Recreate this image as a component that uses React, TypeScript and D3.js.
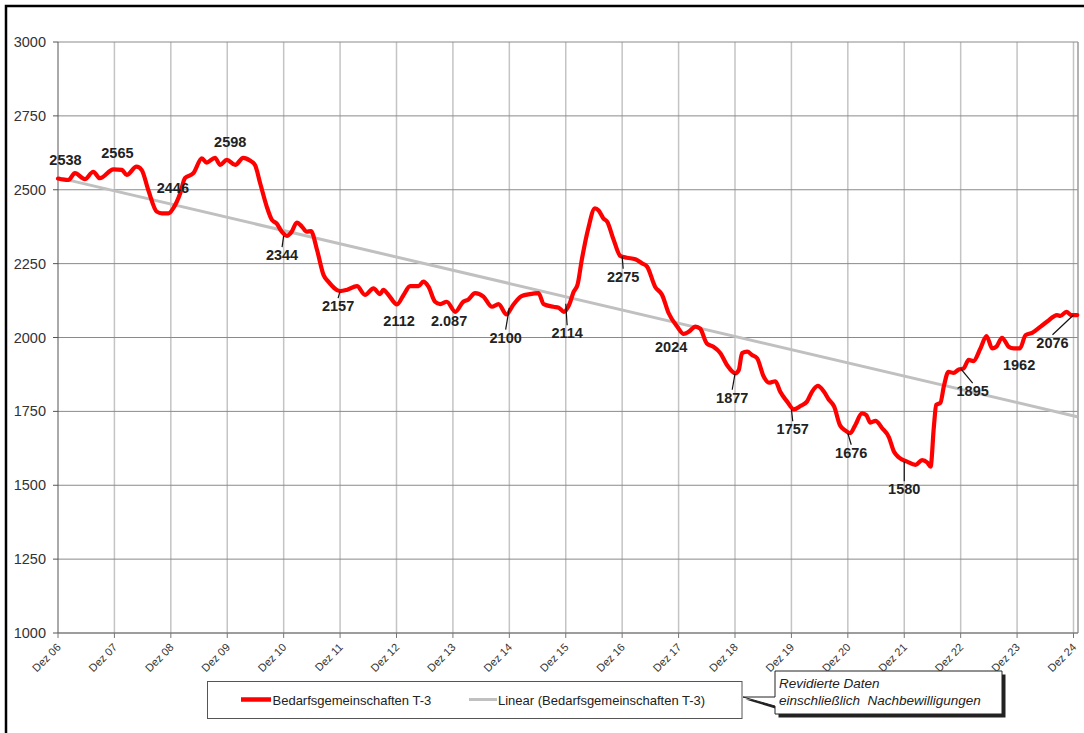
import React, { useEffect, useRef } from 'react';
import * as d3 from 'd3';

// month offsets since Dez 06 and values of the red series
const months = [
  0, 2.2, 3.6, 5.7, 7.5, 8.9, 11.8, 13.6, 14.6, 16.7, 17.8, 19.2, 21.0, 22.1, 23.5, 24.5, 26.0, 27.0, 28.8,
  30.6, 31.6, 33.4, 34.5, 35.9, 37.7, 39.4, 40.9, 41.9, 43.0, 44.4, 45.5, 46.5, 47.6, 48.7, 49.7, 50.8, 51.9,
  52.9, 53.8, 55.1, 56.5, 57.5, 60.0, 61.4, 63.6, 65.3, 67.1, 68.5, 69.2, 70.3, 72.1, 73.5, 74.9, 76.7, 77.7,
  78.8, 80.2, 81.3, 82.7, 84.5, 86.2, 87.3, 88.7, 90.5, 92.3, 93.7, 95.4, 96.8, 98.6, 100.4, 102.2, 103.3,
  105.4, 106.5, 107.6, 108.7, 109.7, 110.5, 111.4, 112.8, 114.2, 115.0, 116.0, 116.8, 118.2, 119.6, 121.0,
  122.8, 124.2, 125.3, 127.0, 128.5, 129.9, 131.7, 133.1, 134.2, 135.6, 136.6, 138.0, 139.4, 140.9, 142.3,
  144.1, 144.8, 145.5, 146.6, 147.6, 148.7, 150.1, 151.2, 152.6, 153.6, 155.1, 156.5, 157.9, 159.3, 160.4,
  161.6, 162.9, 163.9, 165.1, 166.3, 167.5, 168.5, 169.6, 171.0, 171.9, 172.8, 173.9, 175.3, 176.7, 177.8,
  178.8, 180.6, 182.4, 183.8, 184.9, 185.6, 186.3, 186.8, 187.7, 188.4, 189.4, 190.5, 191.6, 192.6, 193.7,
  194.7, 196.2, 197.5, 198.7, 199.6, 200.8, 202.2, 203.3, 204.6, 205.8, 207.2, 209.0, 210.4, 212.5, 213.2,
  214.5, 215.5, 216.8,
];
const values = [
  2538, 2533, 2556, 2536, 2561, 2539, 2569, 2567, 2550, 2578, 2567, 2499, 2426, 2420, 2420, 2437, 2488, 2539, 2556,
  2606, 2592, 2608, 2584, 2601, 2584, 2608, 2598, 2584, 2522, 2443, 2398, 2386, 2358, 2344, 2358, 2389, 2375,
  2358, 2360, 2296, 2211, 2189, 2157, 2161, 2174, 2144, 2166, 2147, 2161, 2144, 2112, 2144, 2174, 2174, 2189,
  2172, 2121, 2113, 2121, 2087, 2121, 2129, 2150, 2138, 2104, 2113, 2078, 2110, 2140, 2147, 2150, 2113,
  2104, 2101, 2087, 2110, 2155, 2178, 2262, 2370, 2437, 2430, 2403, 2392, 2330, 2276, 2270,
  2265, 2251, 2240, 2172, 2144, 2082, 2037, 2012, 2020, 2037, 2030, 1980, 1969, 1947, 1907,
  1879, 1890, 1947, 1952, 1941, 1930, 1868, 1847, 1852, 1817, 1783, 1757, 1768, 1783, 1817,
  1836, 1817, 1791, 1766, 1704, 1685, 1676, 1704, 1743, 1738, 1712, 1718, 1693, 1664, 1614,
  1595, 1580, 1569, 1585, 1577, 1563, 1698, 1772, 1779, 1833, 1884, 1880, 1892, 1895, 1924,
  1920, 1963, 2005, 1963, 1969, 1999, 1969, 1963, 1963, 2008, 2016, 2037, 2054, 2076, 2073,
  2087, 2076, 2076,
];

// linear trend, read at both ends
const trendMonths = [0, 216.8];
const trendValues = [2541, 1732];

const xTickMonths = d3.range(0, 217, 12);
const xTickLabels = ['Dez 06', 'Dez 07', 'Dez 08', 'Dez 09', 'Dez 10', 'Dez 11', 'Dez 12', 'Dez 13', 'Dez 14',
  'Dez 15', 'Dez 16', 'Dez 17', 'Dez 18', 'Dez 19', 'Dez 20', 'Dez 21', 'Dez 22', 'Dez 23', 'Dez 24'];
const yTicks = [1000, 1250, 1500, 1750, 2000, 2250, 2500, 2750, 3000];

// data labels
const labelMonths = [0, 12, 24, 36, 48, 60, 72, 84, 96, 108, 120, 132, 144, 156, 168, 180, 192, 204, 216];
const labelValues = [2538, 2565, 2446, 2598, 2344, 2157, 2112, 2087, 2100, 2114, 2275, 2024, 1877, 1757, 1676, 1580, 1895, 1962, 2076];
const labelTexts = ['2538', '2565', '2446', '2598', '2344', '2157', '2112', '2.087', '2100', '2114', '2275', '2024', '1877', '1757', '1676', '1580', '1895', '1962', '2076'];
// layout: text offset from the point, and whether a leader line is drawn
const labelLayout = [
  [7.5, -13.5, 0], [3, -12.8, 0], [2, -13, 0], [3, -13.8, 0], [-1.6, 24.2, 1], [-2, 20, 1], [2.6, 21.6, 0],
  [-3.8, 14.2, 0], [-3.7, 34.7, 1], [1.4, 34.5, 1], [1, 25.5, 1], [-7.4, 21.3, 0], [-2.8, 28.9, 1],
  [1.3, 25, 1], [3.4, 24.5, 1], [0, 32.7, 1], [12, 27.5, 1], [2, 21.3, 0], [-21, 32.7, 1],
];

const seriesName = 'Bedarfsgemeinschaften T-3';
const trendName = 'Linear (Bedarfsgemeinschaften T-3)';
const noteLines = ['Revidierte Daten', 'einschließlich  Nachbewilligungen'];

const FONT = '"Liberation Sans", Arial, sans-serif';

export default function App() {
  const width = 1084;
  const height = 733;
  const plot = { left: 58, right: 1078, top: 42, bottom: 633 };
  const ref = useRef<SVGSVGElement>(null);

  useEffect(() => {
    if (!ref.current) return;
    const svg = d3.select(ref.current);
    svg.selectAll('*').remove();

    const x = d3.scaleLinear().domain([0, 216]).range([58, 1073.5]);
    const y = d3.scaleLinear().domain([1000, 3000]).range([plot.bottom, plot.top]);

    // outer frame
    svg.append('rect').attr('x', 6).attr('y', 6).attr('width', width + 20).attr('height', height + 20)
      .attr('fill', 'white').attr('stroke', '#000').attr('stroke-width', 2.5);

    // vertical grid
    svg.append('g').selectAll('line').data(xTickMonths.slice(1)).enter().append('line')
      .attr('x1', d => x(d)).attr('x2', d => x(d)).attr('y1', plot.top).attr('y2', plot.bottom)
      .attr('stroke', '#c4c4c4').attr('stroke-width', 1.5);
    // horizontal grid
    svg.append('g').selectAll('line').data(yTicks).enter().append('line')
      .attr('x1', plot.left).attr('x2', plot.right).attr('y1', d => y(d)).attr('y2', d => y(d))
      .attr('stroke', '#8a8a8a').attr('stroke-width', 1);
    // plot right border
    svg.append('line').attr('x1', plot.right).attr('x2', plot.right).attr('y1', plot.top).attr('y2', plot.bottom)
      .attr('stroke', '#9a9a9a').attr('stroke-width', 1.5);

    // y axis
    svg.append('line').attr('x1', plot.left).attr('x2', plot.left).attr('y1', plot.top).attr('y2', plot.bottom)
      .attr('stroke', '#555').attr('stroke-width', 1);
    const yAxis = svg.append('g');
    yAxis.selectAll('line').data(yTicks).enter().append('line')
      .attr('x1', plot.left - 5).attr('x2', plot.left).attr('y1', d => y(d)).attr('y2', d => y(d))
      .attr('stroke', '#555');
    yAxis.selectAll('text').data(yTicks).enter().append('text')
      .attr('x', 46).attr('y', d => y(d)).attr('dy', '0.35em').attr('text-anchor', 'end')
      .attr('font-family', FONT).attr('font-size', 14.5).attr('fill', '#333')
      .text(d => d);

    // x axis
    svg.append('line').attr('x1', plot.left).attr('x2', plot.right).attr('y1', plot.bottom).attr('y2', plot.bottom)
      .attr('stroke', '#777').attr('stroke-width', 1.2);
    const xAxis = svg.append('g');
    xAxis.selectAll('line').data(xTickMonths).enter().append('line')
      .attr('x1', d => x(d)).attr('x2', d => x(d)).attr('y1', plot.bottom).attr('y2', plot.bottom + 5)
      .attr('stroke', '#777');
    xAxis.selectAll('text').data(xTickMonths).enter().append('text')
      .attr('transform', d => `translate(${x(d) + 3.5},648) rotate(-45)`)
      .attr('text-anchor', 'end').attr('font-family', FONT).attr('font-size', 11).attr('fill', '#333')
      .text((d, i) => xTickLabels[i]);

    // trend line
    svg.append('path')
      .datum(trendMonths.map((m, i) => [m, trendValues[i]] as [number, number]))
      .attr('fill', 'none').attr('stroke', '#c0c0c0').attr('stroke-width', 3)
      .attr('d', d3.line<[number, number]>().x(d => x(d[0])).y(d => y(d[1])));

    // series
    svg.append('path')
      .datum(months.map((m, i) => [m, values[i]] as [number, number]))
      .attr('fill', 'none').attr('stroke', '#ff0000').attr('stroke-width', 4.2)
      .attr('stroke-linejoin', 'round').attr('stroke-linecap', 'round')
      .attr('d', d3.line<[number, number]>().x(d => x(d[0])).y(d => y(d[1])).curve(d3.curveMonotoneX));

    // data labels
    const labels = svg.append('g');
    labelMonths.forEach((m, i) => {
      const [dx, dy, leader] = labelLayout[i];
      const px = x(m);
      const py = y(labelValues[i]);
      const tx = px + dx;
      const ty = py + dy;
      if (leader) {
        labels.append('line').attr('x1', tx).attr('y1', ty - 13).attr('x2', px).attr('y2', py)
          .attr('stroke', '#111').attr('stroke-width', 1.2);
      }
      labels.append('text').attr('x', tx).attr('y', ty).attr('text-anchor', 'middle')
        .attr('font-family', FONT).attr('font-size', 14.5).attr('font-weight', 'bold').attr('fill', '#222')
        .text(labelTexts[i]);
    });

    // legend
    const lg = svg.append('g');
    lg.append('rect').attr('x', 207.5).attr('y', 681.5).attr('width', 534.5).attr('height', 37)
      .attr('fill', 'white').attr('stroke', '#555').attr('stroke-width', 1);
    lg.append('line').attr('x1', 241).attr('x2', 271).attr('y1', 699.5).attr('y2', 699.5)
      .attr('stroke', '#ff0000').attr('stroke-width', 4.5);
    lg.append('text').attr('x', 272.5).attr('y', 704.5).attr('font-family', FONT).attr('font-size', 13)
      .attr('fill', '#222').text(seriesName);
    lg.append('line').attr('x1', 469).attr('x2', 497).attr('y1', 699.5).attr('y2', 699.5)
      .attr('stroke', '#c0c0c0').attr('stroke-width', 3);
    lg.append('text').attr('x', 498).attr('y', 704.5).attr('font-family', FONT).attr('font-size', 13)
      .attr('fill', '#222').text(trendName);

    // callout note
    const note = svg.append('g');
    note.append('path')
      .attr('d', 'M777,673 L1004,673 L1004,716 L777,716 L777,708 L744,698 L777,698 Z')
      .attr('fill', '#222').attr('transform', 'translate(1.5,1.5)');
    note.append('path')
      .attr('d', 'M775,671 L1002,671 L1002,714 L775,714 L775,706 L743,697 L775,697 Z')
      .attr('fill', 'white').attr('stroke', '#222').attr('stroke-width', 1);
    noteLines.forEach((t, i) => {
      note.append('text').attr('x', 779).attr('y', 687.5 + i * 17).attr('font-family', FONT)
        .attr('font-size', 13.5).attr('font-style', 'italic').attr('fill', '#222')
        .attr('xml:space', 'preserve').style('white-space', 'pre').text(t);
    });
  // eslint-disable-next-line react-hooks/exhaustive-deps
  }, []);

  return (
    <svg ref={ref} width={width} height={height}
      style={{ position: 'absolute', left: 0, top: 0, background: 'white' }} />
  );
}
